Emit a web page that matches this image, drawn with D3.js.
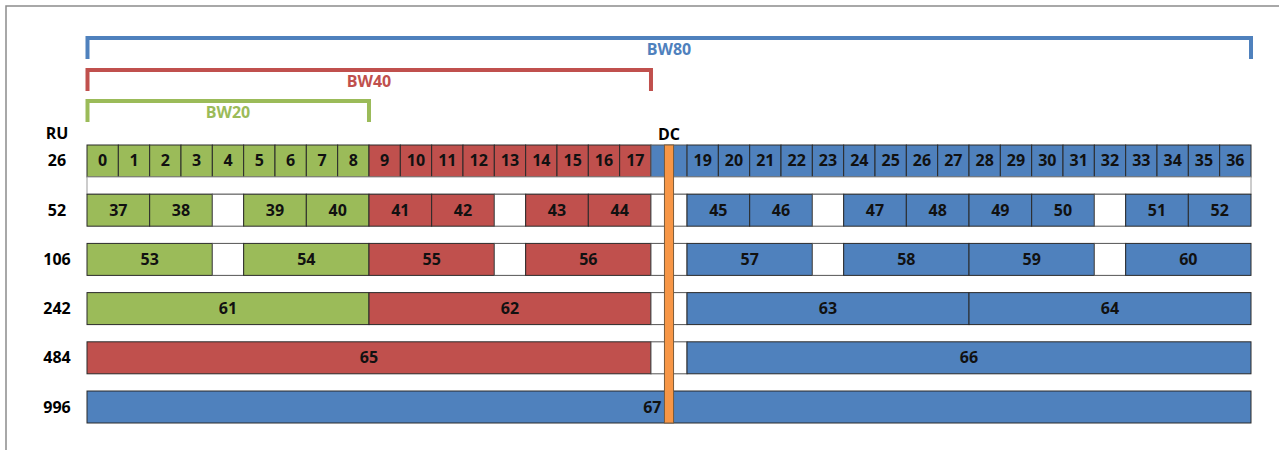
<!DOCTYPE html>
<html>
<head>
<meta charset="utf-8">
<script src="https://cdn.jsdelivr.net/npm/d3@7"></script>
<style>
  body { margin: 0; background: #fff; }
  text { font-family: "Open Sans", sans-serif; font-weight: bold; }
</style>
</head>
<body>
<div id="root"></div>
<script>
// RU sizes (rows) and the RU indices in each row, left to right.
// null = unused gap (one 26-tone slot), "dc" = centre slot around DC
var rowSizes = ["26", "52", "106", "242", "484", "996"];
var ru26 = [0, 1, 2, 3, 4, 5, 6, 7, 8, 9, 10, 11, 12, 13, 14, 15, 16, 17, "dc",
            19, 20, 21, 22, 23, 24, 25, 26, 27, 28, 29, 30, 31, 32, 33, 34, 35, 36];
var ru52 = [37, 38, null, 39, 40, 41, 42, null, 43, 44, "dc", 45, 46, null, 47, 48, 49, 50, null, 51, 52];
var ru106 = [53, null, 54, 55, null, 56, "dc", 57, null, 58, 59, null, 60];
var ru242 = [61, 62, "dc", 63, 64];
var ru484 = [65, "dc", 66];
var ru996 = [67];
// how many 26-tone slots one RU of the row takes
var ruSlots = [1, 2, 4, 9, 18, 0];

var bwNames = ["BW20", "BW40", "BW80"];
var bwSlots = [9, 18, 0];   // 0 = whole band

var colors = {
    BW20: "#9bbb59",
    BW40: "#c0504d",
    BW80: "#4f81bd",
    dc: "#f79646"
};

var width = 1279, height = 450;
var centerSlots = 1.15;              // centre slot is a bit wider (DC tones)
var totalSlots = 36 + centerSlots;

var svg = d3.select("#root").append("svg")
    .attr("width", width)
    .attr("height", height);

var x = d3.scaleLinear().domain([0, totalSlots]).range([87, 1251]);
var y = d3.scaleBand().domain(rowSizes).range([145, 423]).paddingInner(0.35);
var bh = y.bandwidth();

// frame
svg.append("path")
    .attr("d", "M6," + height + "V6H" + width)
    .attr("fill", "none")
    .attr("stroke", "#8c8c8c")
    .attr("stroke-width", 1.5);

// bandwidth brackets
var bwTop = [101, 70, 38];
bwNames.forEach(function(name, i){
    var end = bwSlots[i] === 0 ? totalSlots : bwSlots[i];
    var x0 = x(0) + 0.5, x1 = x(end);
    var top = bwTop[i];
    svg.append("path")
        .attr("d", "M" + x0 + "," + (top + 21) + "V" + top + "H" + x1 + "V" + (top + 21))
        .attr("fill", "none")
        .attr("stroke", colors[name])
        .attr("stroke-width", 4);
    svg.append("text")
        .attr("x", (x(0) + x(end)) / 2)
        .attr("y", top + 17)
        .attr("text-anchor", "middle")
        .attr("font-size", 16)
        .attr("fill", colors[name])
        .text(name);
});

svg.append("text").attr("x", 57).attr("y", 139)
    .attr("text-anchor", "middle").attr("font-size", 16).text("RU");
svg.append("text").attr("x", x(18 + centerSlots / 2)).attr("y", 140)
    .attr("text-anchor", "middle").attr("font-size", 16).text("DC");

function colorFor(end){
    if (end <= bwSlots[0] + 1e-6) return colors.BW20;
    if (end <= bwSlots[1] + 1e-6) return colors.BW40;
    return colors.BW80;
}

var rows = [ru26, ru52, ru106, ru242, ru484, ru996];
var dcLeft = x(18 + centerSlots / 2 - 0.145), dcRight = x(18 + centerSlots / 2 + 0.145);

rows.forEach(function(slots, r){
    var size = rowSizes[r];
    var top = y(size);
    var u = 0;
    var g = svg.append("g").attr("class", "row");

    g.append("text")
        .attr("x", 57).attr("y", top + bh / 2 + 5.5)
        .attr("text-anchor", "middle").attr("font-size", 16)
        .text(size);

    slots.forEach(function(s){
        var w = s === null ? 1 : s === "dc" ? centerSlots : (ruSlots[r] || totalSlots);
        var fill;
        if (s === null) fill = "#fff";
        else if (s === "dc") fill = size === "26" ? colors.BW80 : "#fff";
        else fill = colorFor(u + w);

        g.append("rect")
            .attr("x", x(u)).attr("y", top)
            .attr("width", x(u + w) - x(u)).attr("height", bh)
            .attr("fill", fill)
            .attr("stroke", s === null || s === "dc" ? "#555" : "#2a2a2a")
            .attr("stroke-width", 1);

        if (s !== null && s !== "dc"){
            var t = g.append("text")
                .attr("y", top + bh / 2 + 5.5)
                .attr("font-size", 16)
                .attr("fill", "#111")
                .text(s);
            if (size === "996"){
                t.attr("x", dcLeft - 3).attr("text-anchor", "end");
            } else {
                t.attr("x", x(u + w / 2)).attr("text-anchor", "middle");
            }
        }
        u += w;
    });

    // empty strip under the 26-tone row
    if (size === "26"){
        svg.append("rect")
            .attr("x", x(0)).attr("y", top + bh)
            .attr("width", x(totalSlots) - x(0))
            .attr("height", y("52") - top - bh)
            .attr("fill", "#fff")
            .attr("stroke", "#999");
    }
});

// DC bar
svg.append("rect")
    .attr("x", dcLeft).attr("y", y("26"))
    .attr("width", dcRight - dcLeft)
    .attr("height", y("996") + bh - y("26"))
    .attr("fill", colors.dc)
    .attr("stroke", "#7a5a3a")
    .attr("stroke-width", 1);
</script>
</body>
</html>
